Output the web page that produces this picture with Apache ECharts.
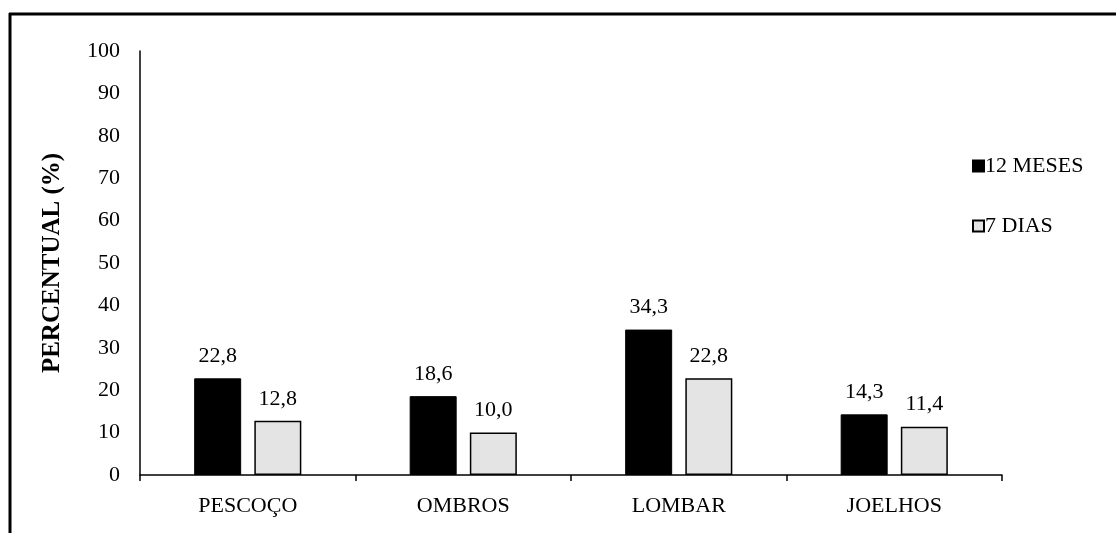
<!DOCTYPE html>
<html>
<head>
<meta charset="utf-8">
<script src="https://cdn.jsdelivr.net/npm/echarts@6/dist/echarts.min.js"></script>
<style>
  html, body { margin: 0; padding: 0; background: #fff; }
  #chart { width: 1116px; height: 533px; }
</style>
</head>
<body>
<div id="chart"></div>
<script>
// Body regions and prevalence of symptoms (%)
const categories = ['PESCOÇO', 'OMBROS', 'LOMBAR', 'JOELHOS'];
const meses12 = [22.8, 18.6, 34.3, 14.3];
const dias7 = [12.8, 10.0, 22.8, 11.4];
const seriesNames = ['12 MESES', '7 DIAS'];

const FONT = '"Liberation Serif", "Times New Roman", serif';
const fmt = p => p.value.toFixed(1).replace('.', ',');

const chart = echarts.init(document.getElementById('chart'), null, { renderer: 'canvas' });

chart.setOption({
  animation: false,
  backgroundColor: '#fff',
  textStyle: { fontFamily: FONT, color: '#000' },
  grid: { left: 140, top: 51, right: 114, bottom: 58, containLabel: false },
  legend: {
    orient: 'vertical',
    left: 967,
    top: 150,
    itemWidth: 11,
    itemHeight: 11,
    itemGap: 38,
    icon: 'rect',
    textStyle: { fontFamily: FONT, fontSize: 22, color: '#000', padding: [0, 0, 0, -4] },
    data: seriesNames
  },
  xAxis: {
    type: 'category',
    data: categories,
    axisLine: { lineStyle: { color: '#000', width: 1.5 } },
    axisTick: { show: true, length: 6, lineStyle: { color: '#000', width: 1.5 } },
    axisLabel: { fontFamily: FONT, fontSize: 22, color: '#000', margin: 20 },
    splitLine: { show: false }
  },
  yAxis: {
    type: 'value',
    min: 0,
    max: 100,
    interval: 10,
    name: 'PERCENTUAL (%)',
    nameLocation: 'middle',
    nameGap: 75,
    nameTextStyle: { fontFamily: FONT, fontSize: 25, fontWeight: 'bold', color: '#000' },
    axisLine: { show: true, lineStyle: { color: '#000', width: 1.5 } },
    axisTick: { show: false },
    axisLabel: { fontFamily: FONT, fontSize: 22, color: '#000', margin: 20 },
    splitLine: { show: false }
  },
  series: [
    {
      name: seriesNames[0],
      type: 'bar',
      data: meses12,
      barWidth: 47,
      barGap: '28%',
      itemStyle: { color: '#000', borderColor: '#000', borderWidth: 1 },
      label: { show: true, position: 'top', distance: 11, formatter: fmt, fontFamily: FONT, fontSize: 22, color: '#000' }
    },
    {
      name: seriesNames[1],
      type: 'bar',
      data: dias7,
      barWidth: 47,
      itemStyle: { color: '#e4e4e4', borderColor: '#000', borderWidth: 1.5 },
      label: { show: true, position: 'top', distance: 11, formatter: fmt, fontFamily: FONT, fontSize: 22, color: '#000' }
    }
  ],
  graphic: [
    { type: 'line', shape: { x1: 9, y1: 14, x2: 1116, y2: 14 }, style: { stroke: '#000', lineWidth: 3 } },
    { type: 'line', shape: { x1: 10, y1: 13, x2: 10, y2: 533 }, style: { stroke: '#000', lineWidth: 3 } }
  ]
});
</script>
</body>
</html>
